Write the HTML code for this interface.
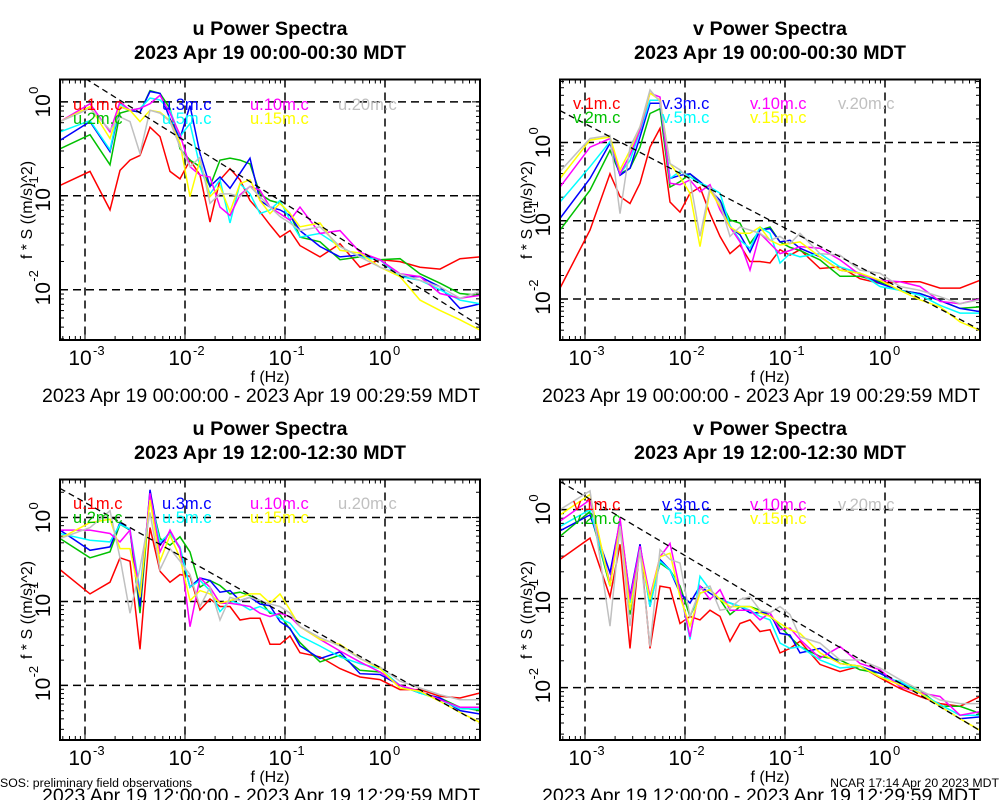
<!DOCTYPE html>
<html><head><meta charset="utf-8"><style>
html,body{margin:0;padding:0;background:#fff;}
svg{display:block;font-family:"Liberation Sans",Arial,sans-serif;}
</style></head><body>
<svg id="fig" width="1000" height="800" viewBox="0 0 1000 800" xmlns="http://www.w3.org/2000/svg"></svg>
<script>
// ---- data (log10 of frequency and log10 of f*S) ----
const logFreq = [-3.25,-2.95,-2.75,-2.65,-2.55,-2.45,-2.35,-2.25,-2.15,-2.05,-1.95,-1.85,-1.75,-1.65,-1.55,-1.45,-1.35,-1.25,-1.15,-1.05,-0.95,-0.85,-0.65,-0.45,-0.25,-0.05,0.15,0.35,0.55,0.75,0.95];
const seriesNames = ["1m","2m","3m","5m","10m","15m","20m"];
const seriesColors = ["#ff0000","#00c000","#0000ff","#00ffff","#ff00ff","#ffff00","#c0c0c0"];
const xTickExps = [-3,-2,-1,0];
const yTickExps = [0,-1,-2];
const refSlope = -2/3;

const uMorn1 = [-0.89,-0.74,-1.15,-0.73,-0.62,-0.57,-0.27,-0.37,-0.74,-0.82,-0.62,-0.78,-1.28,-0.83,-0.71,-0.83,-1.05,-1.17,-1.31,-1.44,-1.37,-1.53,-1.65,-1.51,-1.76,-1.68,-1.70,-1.76,-1.78,-1.67,-1.65];
const uMorn2 = [-0.50,-0.35,-0.67,-0.12,-0.09,-0.11,0.12,0.09,-0.07,-0.50,-0.62,-0.69,-0.90,-0.62,-0.60,-0.62,-0.66,-0.98,-1.05,-1.08,-1.19,-1.44,-1.49,-1.68,-1.65,-1.68,-1.67,-1.83,-1.93,-2.04,-2.06];
const uMorn3 = [-0.41,-0.21,-0.53,-0.05,-0.09,-0.11,0.11,0.09,-0.18,-0.39,-0.04,-0.55,-0.90,-0.80,-0.92,-0.76,-0.60,-1.05,-1.12,-1.15,-1.21,-1.37,-1.54,-1.65,-1.63,-1.68,-1.86,-1.86,-1.97,-2.20,-2.15];
const uMorn5 = [-0.32,-0.20,-0.51,-0.02,-0.09,-0.07,0.04,0.02,-0.09,-0.37,-0.23,-0.69,-0.98,-0.83,-1.29,-0.87,-0.98,-1.19,-1.15,-1.05,-1.26,-1.44,-1.40,-1.54,-1.65,-1.68,-1.86,-1.90,-2.00,-2.11,-2.15];
const uMorn10 = [-0.21,-0.02,-0.32,0,-0.09,-0.07,-0.02,0.07,-0.12,-0.35,-0.69,-0.78,-0.80,-1.12,-1.21,-0.99,-0.90,-0.94,-1.12,-1.19,-1.26,-1.12,-1.40,-1.37,-1.60,-1.68,-1.83,-1.86,-2.04,-2.09,-2.06];
const uMorn15 = [-0.21,-0.05,-0.39,-0.05,-0.09,-0.21,-0.09,-0.11,-0.20,-0.44,-1.01,-0.62,-1.01,-0.90,-1.17,-0.87,-0.83,-1.05,-1.19,-1.08,-1.19,-1.33,-1.29,-1.58,-1.61,-1.76,-1.86,-2.11,-2.22,-2.32,-2.43];
const uMorn20 = [-0.21,-0.07,-0.30,-0.16,-0.21,-0.55,-0.09,-0.12,-0.21,-0.48,-0.69,-0.59,-1.08,-0.98,-0.98,-1.01,-0.90,-1.01,-1.12,-1.22,-1.29,-1.37,-1.33,-1.54,-1.65,-1.76,-1.83,-1.90,-1.97,-2.09,-2.02];

const vMorn1 = [-1.86,-1.12,-0.40,-0.69,-0.78,-0.52,-0.06,0.18,-0.76,-0.89,-0.65,-0.57,-0.91,-1.20,-1.42,-1.31,-1.52,-1.52,-1.54,-1.37,-1.44,-1.37,-1.61,-1.59,-1.74,-1.80,-1.78,-1.78,-1.86,-1.86,-1.76];
const vMorn2 = [-1.12,-0.61,-0.10,-0.40,-0.33,-0.06,0.37,0.43,-0.57,-0.50,-0.40,-0.52,-0.61,-0.74,-0.99,-1.03,-1.29,-1.12,-1.08,-1.27,-1.34,-1.38,-1.50,-1.71,-1.71,-1.78,-1.89,-1.93,-2.02,-2.12,-2.10];
const vMorn3 = [-0.97,-0.46,-0.01,-0.42,-0.33,0.07,0.50,0.50,-0.46,-0.42,-0.40,-0.50,-0.61,-0.74,-1.08,-1.18,-1.40,-1.12,-1.10,-1.27,-1.25,-1.35,-1.46,-1.63,-1.67,-1.80,-1.89,-1.93,-2.02,-2.12,-2.16];
const vMorn5 = [-0.76,-0.31,0.01,-0.40,-0.23,0.14,0.54,0.54,-0.46,-0.37,-0.44,-0.52,-0.57,-0.65,-1.06,-1.25,-1.35,-1.08,-1.16,-1.54,-1.42,-1.46,-1.42,-1.59,-1.67,-1.84,-1.89,-1.95,-2.08,-2.18,-2.18];
const vMorn10 = [-0.57,-0.06,0.05,-0.40,-0.16,0.16,0.63,0.58,-0.52,-0.54,-0.48,-0.63,-0.54,-0.86,-1.08,-1.27,-1.63,-1.16,-1.29,-1.42,-1.38,-1.33,-1.35,-1.50,-1.69,-1.76,-1.78,-1.84,-2.03,-2.06,-2.00];
const vMorn15 = [-0.46,0.03,0.07,-0.35,-0.10,0.20,0.63,0.54,-0.27,-0.44,-0.65,-1.33,-0.61,-0.82,-1.08,-1.16,-1.16,-1.08,-1.25,-1.31,-1.29,-1.27,-1.46,-1.63,-1.67,-1.76,-1.89,-2.01,-2.10,-2.29,-2.40];
const vMorn20 = [-0.37,0.05,0.09,-0.91,-0.06,0.20,0.67,0.52,-0.27,-0.35,-0.48,-1.20,-0.57,-0.78,-1.20,-1.08,-1.12,-1.16,-1.25,-1.20,-1.29,-1.16,-1.42,-1.44,-1.63,-1.67,-1.84,-1.89,-1.97,-2.06,-2.01];

const uNoon1 = [-0.62,-0.91,-0.77,-0.48,-0.52,-1.57,-0.12,-0.64,-0.77,-0.68,-0.70,-1.10,-0.97,-1.06,-1.06,-1.22,-1.20,-1.20,-1.51,-1.51,-1.41,-1.61,-1.66,-1.80,-1.90,-1.93,-2.05,-2.05,-2.13,-2.15,-2.09];
const uNoon2 = [-0.25,-0.48,-0.41,-0.08,-0.15,-1.14,0.25,-0.25,-0.33,-0.23,-0.41,-0.83,-0.75,-0.81,-0.91,-0.89,-0.93,-0.99,-1.14,-1.16,-1.33,-1.49,-1.72,-1.64,-1.82,-1.84,-2.00,-2.09,-2.15,-2.26,-2.30];
const uNoon3 = [-0.15,-0.39,-0.35,-0.06,-0.15,-1.06,0.33,-0.33,-0.17,-0.37,-0.83,-0.72,-0.75,-0.89,-0.87,-0.99,-0.95,-1.03,-1.05,-1.24,-1.32,-1.53,-1.68,-1.60,-1.86,-1.87,-2.00,-2.09,-2.15,-2.30,-2.34];
const uNoon5 = [-0.19,-0.27,-0.29,-0.08,-0.14,-0.87,0.25,-0.29,-0.19,-0.35,-0.83,-0.75,-0.87,-1.12,-0.99,-1.03,-1.10,-1.06,-1.12,-1.20,-1.26,-1.41,-1.53,-1.66,-1.74,-1.80,-2.00,-2.09,-2.17,-2.28,-2.28];
const uNoon10 = [-0.15,-0.15,-0.19,-0.29,-0.15,-0.95,0.29,-0.41,-0.15,-0.37,-1.30,-0.72,-0.83,-1.02,-1.02,-1.04,-1.06,-1.14,-1.18,-1.14,-1.18,-1.30,-1.45,-1.59,-1.72,-1.84,-2.00,-2.07,-2.17,-2.26,-2.26];
const uNoon15 = [-0.25,-0.06,-0.02,-0.37,-0.37,-0.95,0.21,-0.52,-0.21,-0.48,-0.99,-0.87,-0.91,-1.02,-0.99,-0.95,-0.91,-0.91,-1.02,-0.91,-1.10,-1.30,-1.45,-1.51,-1.68,-1.80,-2.03,-2.07,-2.19,-2.32,-2.44];
const uNoon20 = [-0.25,-0.12,0.08,-0.48,-1.14,-0.60,0.06,-0.62,-0.37,-0.52,-0.68,-1.06,-0.83,-1.22,-0.95,-0.99,-0.95,-0.99,-1.03,-1.06,-1.14,-1.30,-1.43,-1.53,-1.68,-1.78,-1.95,-2.03,-2.11,-2.17,-2.17];

const vNoon1 = [-0.56,-0.32,-0.98,-0.39,-1.56,-0.39,-1.56,-0.86,-0.88,-1.28,-1.20,-1.24,-1.13,-1.20,-1.48,-1.28,-1.24,-1.37,-1.35,-1.61,-1.56,-1.48,-1.74,-1.82,-1.76,-1.89,-2.01,-2.10,-2.18,-2.21,-2.10];
const vNoon2 = [-0.30,-0.02,-0.86,-0.13,-1.18,-0.41,-1.05,-0.60,-0.68,-0.86,-1.20,-0.94,-0.90,-1.01,-1.18,-1.09,-1.09,-1.13,-1.20,-1.31,-1.43,-1.54,-1.65,-1.69,-1.80,-1.84,-1.95,-2.03,-2.21,-2.21,-2.29];
const vNoon3 = [-0.24,-0.06,-0.71,-0.13,-0.98,-0.39,-1.09,-0.56,-0.68,-0.94,-1.05,-0.86,-0.94,-1.01,-1.05,-1.09,-1.16,-1.16,-1.16,-1.39,-1.41,-1.61,-1.56,-1.73,-1.76,-1.84,-1.95,-2.06,-2.21,-2.35,-2.33];
const vNoon5 = [-0.19,0,-0.83,-0.15,-1.05,-0.43,-1.09,-0.58,-0.68,-0.90,-1.46,-0.75,-0.90,-1.01,-1.05,-1.09,-1.13,-1.20,-1.24,-1.50,-1.56,-1.54,-1.69,-1.78,-1.76,-1.88,-1.93,-2.06,-2.19,-2.31,-2.31];
const vNoon10 = [-0.13,0.11,-0.83,-0.09,-1.01,-0.41,-0.98,-0.53,-0.38,-0.90,-1.43,-0.86,-1.01,-0.90,-1.13,-1.13,-1.13,-1.24,-1.16,-1.35,-1.33,-1.46,-1.67,-1.54,-1.73,-1.80,-1.99,-2.06,-2.10,-2.31,-2.27];
const vNoon15 = [-0.06,0.17,-0.86,-0.19,-1.13,-0.49,-1.01,-0.53,-0.49,-0.98,-1.31,-0.94,-0.90,-1.01,-1.09,-1.09,-1.09,-1.16,-1.20,-1.28,-1.35,-1.39,-1.61,-1.73,-1.76,-1.88,-1.97,-2.06,-2.21,-2.35,-2.48];
const vNoon20 = [0,0.21,-1.31,-0.19,-1.31,-0.45,-1.54,-0.45,-0.56,-0.60,-1.20,-0.90,-0.86,-1.13,-1.11,-1.01,-0.98,-1.13,-1.16,-1.09,-1.18,-1.43,-1.50,-1.69,-1.69,-1.78,-1.91,-2.03,-2.14,-2.18,-2.18];

const refIntercepts = [-1.75,-1.76,-1.82,-1.85];

// ---- drawing ----
const NS = "http://www.w3.org/2000/svg";
const svg = document.getElementById('fig');
function mk(tag, attrs, parent){
  const e = document.createElementNS(NS, tag);
  for (const k in attrs) e.setAttribute(k, attrs[k]);
  (parent||svg).appendChild(e);
  return e;
}
const panels = [
  {comp:"u", title2:"2023 Apr 19 00:00-00:30 MDT", range:"2023 Apr 19 00:00:00 - 2023 Apr 19 00:29:59 MDT", ox:0, oy:0, yTop:0.238, yBot:-2.535, data:[uMorn1,uMorn2,uMorn3,uMorn5,uMorn10,uMorn15,uMorn20], ref:refIntercepts[0], leg:[110,124]},
  {comp:"v", title2:"2023 Apr 19 00:00-00:30 MDT", range:"2023 Apr 19 00:00:00 - 2023 Apr 19 00:29:59 MDT", ox:500, oy:0, yTop:0.804, yBot:-2.523, data:[vMorn1,vMorn2,vMorn3,vMorn5,vMorn10,vMorn15,vMorn20], ref:refIntercepts[1], leg:[109,123]},
  {comp:"u", title2:"2023 Apr 19 12:00-12:30 MDT", range:"2023 Apr 19 12:00:00 - 2023 Apr 19 12:29:59 MDT", ox:0, oy:400, yTop:0.453, yBot:-2.65, data:[uNoon1,uNoon2,uNoon3,uNoon5,uNoon10,uNoon15,uNoon20], ref:refIntercepts[2], leg:[509,523]},
  {comp:"v", title2:"2023 Apr 19 12:00-12:30 MDT", range:"2023 Apr 19 12:00:00 - 2023 Apr 19 12:29:59 MDT", ox:500, oy:400, yTop:0.338, yBot:-2.589, data:[vNoon1,vNoon2,vNoon3,vNoon5,vNoon10,vNoon15,vNoon20], ref:refIntercepts[3], leg:[510,524]}
];
const xMin=-3.25, xMax=0.95;
const legCols = [73,162,250,338];

panels.forEach((p,pi)=>{
  const L=60+p.ox, T=79.5+p.oy, W=420, H=260.5;
  const X = v => L + (v-xMin)/(xMax-xMin)*W;
  const Y = v => T + (p.yTop-v)/(p.yTop-p.yBot)*H;
  const g = mk('g',{});
  
  
  const cx = 270+p.ox;
  const t1 = mk('text',{x:cx,y:35+p.oy,'text-anchor':'middle','font-size':19.8,'font-weight':'bold'},g);
  t1.textContent = p.comp+" Power Spectra";
  
  
  const t2 = mk('text',{x:cx,y:59+p.oy,'text-anchor':'middle','font-size':19.8,'font-weight':'bold'},g);
  t2.textContent = p.title2;
  
  
  const cp = mk('clipPath',{id:'clip'+pi},g);
  mk('rect',{x:L,y:T,width:W,height:H},cp);
  xTickExps.forEach(e=>{
    const gl = mk('line',{x1:X(e),x2:X(e),y1:T,y2:T+H,stroke:'#000','stroke-width':1.5,'stroke-dasharray':'8,5'},g);
    
    
    const lb = mk('text',{x:X(e)-5,y:T+H+25,'text-anchor':'middle','font-size':21},g);
    lb.textContent='10';
    
    
    const sp = mk('text',{x:X(e)+8,y:T+H+15,'font-size':13},g);
    sp.textContent=String(e);
    
    
  });
  yTickExps.forEach(e=>{
    const gl = mk('line',{x1:L,x2:L+W,y1:Y(e),y2:Y(e),stroke:'#000','stroke-width':1.5,'stroke-dasharray':'8,5'},g);
    
    
    const tg = mk('g',{transform:'translate('+(L-10)+','+Y(e)+') rotate(-90)'},g);
    const lb = mk('text',{x:-4,y:0,'text-anchor':'middle','font-size':21},tg);
    lb.textContent='10';
    
    
    const sp = mk('text',{x:8,y:-12,'font-size':13},tg);
    sp.textContent=String(e);
    
    
  });
  for(let d=-4; d<=1; d++){
    for(let m=1;m<=9;m++){
      const v=d+Math.log10(m);
      if(v>xMin && v<xMax){ const len = m===1?8:4;
        mk('line',{x1:X(v),x2:X(v),y1:T,y2:T+len,stroke:'#000'},g);
        mk('line',{x1:X(v),x2:X(v),y1:T+H,y2:T+H-len,stroke:'#000'},g);}
      if(v<p.yTop && v>p.yBot){ const len = m===1?8:4;
        mk('line',{x1:L,x2:L+len,y1:Y(v),y2:Y(v),stroke:'#000'},g);
        mk('line',{x1:L+W,x2:L+W-len,y1:Y(v),y2:Y(v),stroke:'#000'},g);}
    }
  }
  p.data.forEach((arr,si)=>{
    const pts = arr.map((v,i)=>X(logFreq[i]).toFixed(1)+','+Y(v).toFixed(1)).join(' ');
    const pl = mk('polyline',{points:pts,fill:'none',stroke:seriesColors[si],'stroke-width':1.5,'clip-path':'url(#clip'+pi+')'},g);
    
    
  });
  const r1 = p.ref + refSlope*xMin, r2 = p.ref + refSlope*xMax;
  const rl = mk('line',{x1:X(xMin),y1:Y(r1),x2:X(xMax),y2:Y(r2),stroke:'#000','stroke-width':1.3,'stroke-dasharray':'6,4','clip-path':'url(#clip'+pi+')'},g);
  
  
  const cols = [0,0,1,1,2,2,3];
  const rows = [0,1,0,1,0,1,0];
  seriesNames.forEach((n,si)=>{
    const lt = mk('text',{x:legCols[cols[si]]+p.ox,y:p.leg[rows[si]],'font-size':16.5,fill:seriesColors[si]},g);
    lt.textContent = p.comp+'.'+n+'.c';
    
    
  });
  const fr = mk('rect',{x:L,y:T,width:W,height:H,fill:'none',stroke:'#000','stroke-width':2},g);
  
  
  const xl = mk('text',{x:cx,y:382+p.oy,'text-anchor':'middle','font-size':16},g);
  xl.textContent='f (Hz)';
  
  
  const yl = mk('text',{x:0,y:0,'text-anchor':'middle','font-size':16,transform:'translate('+(32+p.ox)+','+(210+p.oy)+') rotate(-90)'},g);
  yl.textContent='f * S ((m/s)^2)';
  
  
  const rg = mk('text',{x:261+p.ox,y:402+p.oy,'text-anchor':'middle','font-size':19.5},g);
  rg.textContent=p.range;
  
  
});
const f1 = mk('text',{x:0,y:787,'font-size':12.3});
f1.textContent='SOS: preliminary field observations';


const f2 = mk('text',{x:999,y:787,'font-size':12.3,'text-anchor':'end'});
f2.textContent='NCAR 17:14 Apr 20 2023 MDT';


</script>
</body></html>
